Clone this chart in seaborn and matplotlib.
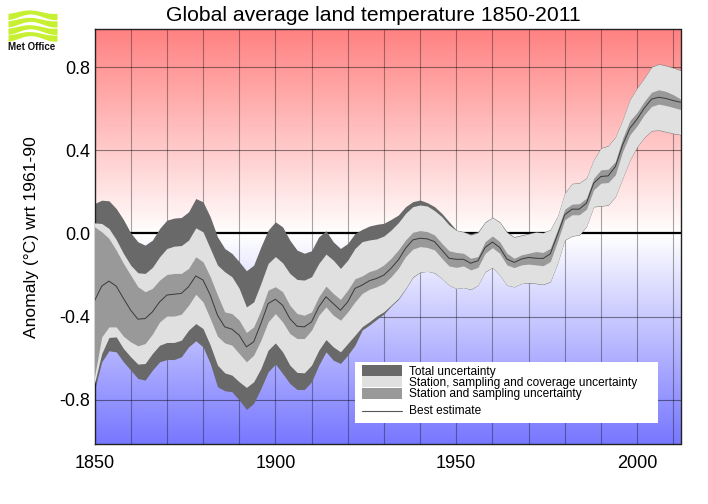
import numpy as np
import pandas as pd
import matplotlib
matplotlib.use('Agg')
import matplotlib.pyplot as plt
from matplotlib.colors import LinearSegmentedColormap
from matplotlib.patches import Rectangle
import seaborn as sns

years = list(range(1850, 2013, 2))

total_upper = [.144, .160, .157, .120, .067, .003, -.040, -.056, -.032, .024, .064, .074, .077, .104, .168, .152, .080,
               -.016, -.072, -.096, -.136, -.179, -.152, -.064, .016, .056, .032, -.032, -.080, -.095, -.083, -.016,
               .013, -.040, -.072, -.048, 0.0,
               .020, .036, .044, .049, .068, .089, .129, .153, .161, .148, .129, .097, .057, .017, .009, -.001, .009,
               .057, .078, .057, .009, -.015, -.007, .001,
               .008, .005, .020, .084, .196, .241, .244, .268, .356, .412, .423, .465, .548, .645, .701, .749, .802,
               .816, .808, .798, .786]
coverage_upper = [.051, .048, .024, -.029, -.096, -.152, -.189, -.192, -.163, -.112, -.072, -.061, -.058, -.032, .027,
                  .008, -.072, -.152, -.184, -.208, -.264, -.353, -.329, -.240, -.144, -.111, -.141, -.192, -.221,
                  -.224, -.208, -.144, -.099, -.128, -.168, -.128, -.072,
                  -.039, -.031, -.026, -.012, .017, .052, .097, .129, .137, .132, .110, .081, .041, .015, .007, -.007,
                  .004, .054, .076, .054, .004, -.018, -.010, -.002,
                  .006, .003, .018, .082, .194, .239, .242, .266, .354, .410, .421, .463, .546, .643, .699, .747, .800,
                  .814, .806, .796, .784]
station_upper = [.032, .008, -.024, -.080, -.144, -.200, -.256, -.280, -.264, -.224, -.197, -.192, -.192, -.168, -.112,
                 -.136, -.208, -.296, -.377, -.385, -.417, -.476, -.449, -.369, -.272, -.256, -.280, -.345, -.385,
                 -.393, -.377, -.304, -.253, -.288, -.317, -.272, -.218,
                 -.204, -.183, -.172, -.151, -.119, -.079, -.031, .006, .014, .009, -.007, -.047, -.083, -.091, -.095,
                 -.119, -.111, -.039, -.012, -.039, -.095, -.119, -.103, -.095,
                 -.087, -.091, -.071, .018, .117, .141, .143, .170, .266, .306, .309, .346, .458, .542, .582, .635,
                 .679, .691, .683, .667, .647]
best_estimate = [-.324, -.253, -.229, -.253, -.312, -.369, -.412, -.409, -.377, -.329, -.296, -.292, -.288, -.256,
                 -.204, -.224, -.296, -.393, -.449, -.460, -.489, -.545, -.521, -.433, -.337, -.316, -.345, -.409,
                 -.446, -.449, -.425, -.353, -.304, -.337, -.369, -.329, -.264,
                 -.248, -.227, -.216, -.200, -.167, -.127, -.071, -.031, -.023, -.026, -.039, -.079, -.119, -.124,
                 -.124, -.143, -.131, -.067, -.041, -.067, -.123, -.139, -.123, -.115,
                 -.119, -.120, -.098, -.006, .090, .117, .117, .146, .242, .274, .277, .322, .426, .506, .550, .603,
                 .646, .655, .649, .639, .631]
station_lower = [-.689, -.497, -.449, -.449, -.494, -.521, -.540, -.529, -.484, -.425, -.397, -.397, -.388, -.345,
                 -.292, -.329, -.409, -.494, -.526, -.537, -.577, -.617, -.585, -.513, -.425, -.385, -.425, -.481,
                 -.505, -.505, -.465, -.393, -.353, -.393, -.417, -.377, -.329,
                 -.288, -.268, -.256, -.240, -.208, -.167, -.111, -.075, -.063, -.067, -.079, -.119, -.156, -.163,
                 -.156, -.175, -.163, -.095, -.068, -.095, -.151, -.164, -.151, -.147,
                 -.151, -.155, -.135, -.038, .066, .090, .090, .117, .210, .242, .245, .282, .394, .474, .518, .571,
                 .611, .622, .615, .606, .596]
coverage_lower = [-.721, -.577, -.500, -.497, -.553, -.593, -.628, -.625, -.577, -.537, -.524, -.524, -.513, -.465,
                  -.433, -.457, -.537, -.633, -.670, -.681, -.713, -.740, -.713, -.649, -.561, -.526, -.569, -.633,
                  -.668, -.670, -.633, -.561, -.510, -.545, -.569, -.529, -.489,
                  -.448, -.424, -.397, -.376, -.344, -.312, -.264, -.208, -.185, -.182, -.188, -.216, -.248, -.264,
                  -.259, -.268, -.248, -.183, -.163, -.200, -.248, -.256, -.240, -.236,
                  -.239, -.244, -.231, -.143, -.030, -.011, -.006, .034, .130, .133, .138, .178, .266, .354, .418,
                  .463, .495, .498, .490, .482, .476]
total_lower = [-.753, -.617, -.564, -.569, -.617, -.657, -.697, -.705, -.657, -.617, -.606, -.606, -.593, -.545, -.516,
               -.545, -.625, -.737, -.756, -.761, -.801, -.846, -.817, -.745, -.665, -.628, -.673, -.721, -.750, -.750,
               -.713, -.633, -.569, -.609, -.625, -.585, -.537,
               -.464, -.440, -.413, -.387, -.349, -.317, -.267, -.211, -.187, -.182, -.190, -.217, -.249, -.265, -.260,
               -.270, -.249, -.185, -.164, -.201, -.249, -.257, -.241, -.238,
               -.241, -.246, -.233, -.145, -.032, -.013, -.008, .032, .128, .131, .136, .176, .264, .352, .416, .461,
               .493, .496, .488, .480, .474]

x_ticks = [1850, 1900, 1950, 2000]
y_ticks = [-0.8, -0.4, 0.0, 0.4, 0.8]
legend_labels = ['Total uncertainty', 'Station, sampling and coverage uncertainty',
                 'Station and sampling uncertainty', 'Best estimate']

DARK = '#696969'
LIGHT = '#e0e0e0'
MID = '#999999'

W, H = 708, 504
LEFT, RIGHT, TOP, BOTTOM = 94.5, 680.5, 29, 444

sns.set_theme(style='white')
plt.rcParams['font.family'] = ['Liberation Sans', 'DejaVu Sans']

df = pd.DataFrame({'year': years, 'best': best_estimate})

fig = plt.figure(figsize=(W / 100, H / 100), dpi=100)
ax = fig.add_axes([LEFT / W, 1 - BOTTOM / H, (RIGHT - LEFT) / W, (BOTTOM - TOP) / H])

xlim = (1850, 2012)
ylim = (-1.012, 0.983)

# red/white/blue background
cmap = LinearSegmentedColormap.from_list('anom', ['#7878ff', '#ffffff', '#ff8080'])
grad = np.linspace(-1, 1, 400).reshape(-1, 1)
ax.imshow(grad, extent=(xlim[0], xlim[1], -1.012, 1.0), origin='lower', aspect='auto', cmap=cmap,
          vmin=-1, vmax=1, zorder=0)

for yr in range(1860, 2011, 10):
    ax.axvline(yr, color='black', alpha=0.35, lw=0.8, zorder=1)
for val in y_ticks:
    if val != 0:
        ax.axhline(val, color='black', alpha=0.45, lw=0.8, zorder=1)
ax.axhline(0, color='black', lw=1.6, zorder=1.5)

ax.fill_between(years, total_lower, total_upper, color=DARK, lw=0, zorder=2)
ax.fill_between(years, coverage_lower, coverage_upper, color=LIGHT, lw=0, zorder=3)
ax.fill_between(years, station_lower, station_upper, color=MID, lw=0, zorder=4)
sns.lineplot(data=df, x='year', y='best', color='#3a3a3a', lw=0.7, ax=ax, zorder=5)

ax.set_xlim(xlim)
ax.set_ylim(ylim)
ax.set_xticks(x_ticks)
ax.set_yticks(y_ticks)
ax.set_yticklabels(['-0.8', '-0.4', '0.0', '0.4', '0.8'])
ax.tick_params(length=0, labelsize=13, colors='black', pad=3)
ax.tick_params(axis='x', pad=8)
ax.set_xlabel('')
ax.set_ylabel('Anomaly (°C) wrt 1961-90', fontsize=12.6, color='black')
ax.yaxis.set_label_coords((39 - LEFT) / (RIGHT - LEFT), (BOTTOM - 237) / (BOTTOM - TOP))
ax.set_title('Global average land temperature 1850-2011', fontsize=15.2, color='black', pad=6)
ax.title.set_position((((166 + 580) / 2 - LEFT) / (RIGHT - LEFT), 1))
for s in ax.spines.values():
    s.set_visible(True)
    s.set_color('#222222')
    s.set_linewidth(1)

# legend box, in pixel units of its own
leg = fig.add_axes([355 / W, 1 - 423 / H, 303 / W, 61 / H])
leg.set_xlim(355, 658)
leg.set_ylim(423, 362)
leg.set_facecolor('white')
leg.set_xticks([])
leg.set_yticks([])
for s in leg.spines.values():
    s.set_visible(False)
for y0, col in zip([365.5, 376.5, 387.5], [DARK, LIGHT, MID]):
    leg.add_patch(Rectangle((362, y0), 40, 11, color=col, lw=0))
leg.plot([362, 402], [410.5, 410.5], color='#555555', lw=0.8)
for ty, label in zip([372, 383, 394, 410.5], legend_labels):
    leg.text(409, ty, label, fontsize=8.6, color='black', va='center')

# Met Office logo
logo = fig.add_axes([8 / W, 1 - 41 / H, 49 / W, 33 / H])
logo.axis('off')
logo.set_xlim(0, 1)
logo.set_ylim(-0.08, 1.08)
t = np.linspace(0, 1, 60)
for base in [0.86, 0.60, 0.34, 0.10]:
    wave = base - 0.08 * np.cos(2 * np.pi * (t + 0.05))
    half = 0.09 + 0.02 * np.cos(2 * np.pi * t)
    logo.fill_between(t, wave - half, wave + half, color='#c8f032', lw=0)
fig.text(32 / W, 1 - 47.5 / H, 'Met Office', fontsize=7, fontweight='bold', color='#111111',
         ha='center', va='center')

fig.savefig('out.png', dpi=100)
